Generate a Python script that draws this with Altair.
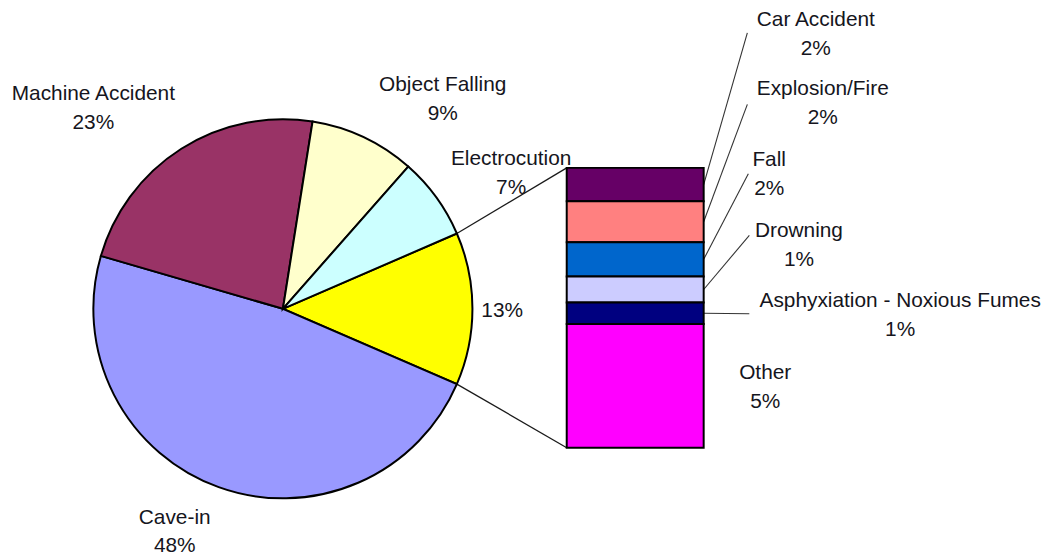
import math
import altair as alt
import pandas as pd

# ---------------- data ----------------
pie_names = ["Other causes", "Cave-in", "Machine Accident", "Object Falling", "Electrocution"]
pie_values = [13, 48, 23, 9, 7]
pie_pct = ["13%", "48%", "23%", "9%", "7%"]
pie_colors = ["#FFFF00", "#9999FF", "#993366", "#FFFFCC", "#CCFFFF"]

bar_names = ["Car Accident", "Explosion/Fire", "Fall", "Drowning",
             "Asphyxiation - Noxious Fumes", "Other"]
bar_values = [1.55, 1.9, 1.6, 1.2, 1.0, 5.75]
bar_pct = ["2%", "2%", "2%", "1%", "1%", "5%"]
bar_colors = ["#660066", "#FF8080", "#0066CC", "#CCCCFF", "#000080", "#FF00FF"]

# ---------------- layout (pixels inside the chart) ----------------
W, H = 1053, 547
CX, CY, R = 277, 301, 191
BAR_X0, BAR_X1 = 563, 701
BAR_TOP, BAR_BOTTOM = 159, 441
FONT = "Liberation Sans"
FS = 21
LH = 29

pie_total = sum(pie_values)
a0 = math.pi / 2 - math.pi * pie_values[0] / pie_total   # aggregated slice centred at 3 o'clock
a1 = a0 + 2 * math.pi * pie_values[0] / pie_total

pie_df = pd.DataFrame({
    "name": pie_names,
    "value": pie_values,
    "order": list(range(len(pie_names))),
    "color": pie_colors,
})

# bar stacked from bottom (Other) to top (Car Accident)
bar_total = sum(bar_values)
lo, hi = [], []
acc = 0.0
for v in reversed(bar_values):
    lo.append(acc)
    acc += v
    hi.append(acc)
lo = list(reversed(lo))
hi = list(reversed(hi))
bar_df = pd.DataFrame({
    "name": bar_names,
    "value": bar_values,
    "lo": lo,
    "hi": hi,
    "color": bar_colors,
})

def bar_px(v):
    return BAR_BOTTOM - v / bar_total * (BAR_BOTTOM - BAR_TOP)

# connectors from pie slice edges to bar corners
conn_df = pd.DataFrame({
    "x": [CX + R * math.sin(a0), CX + R * math.sin(a1)],
    "y": [CY - R * math.cos(a0), CY - R * math.cos(a1)],
    "x2": [BAR_X0, BAR_X0],
    "y2": [BAR_TOP, BAR_BOTTOM],
})

# leader lines from bar segments to labels
leader_end = [(745, 23), (745, 95), (746, 165), (747, 227), (747, 306)]
mids = [bar_px((l + h) / 2) for l, h in zip(lo, hi)]
lead_df = pd.DataFrame({
    "x": [BAR_X1] * 5,
    "y": mids[:5],
    "x2": [e[0] for e in leader_end],
    "y2": [e[1] for e in leader_end],
})

# labels
pie_label_pos = [(498, 309.5), (168, 517.5), (86, 90.5), (438, 81.5), (507, 156.5)]
bar_label_pos = [(814, 16.5), (821, 85.5), (767, 157.5), (797, 228.5), (899, 299.5), (763, 371.5)]
texts, xs, ys = [], [], []
for i, (n, p) in enumerate(zip(pie_names, pie_pct)):
    texts.append(p if i == 0 else n + "\n" + p)
    xs.append(pie_label_pos[i][0])
    ys.append(pie_label_pos[i][1])
for i, (n, p) in enumerate(zip(bar_names, bar_pct)):
    texts.append(n + "\n" + p)
    xs.append(bar_label_pos[i][0])
    ys.append(bar_label_pos[i][1])
text_df = pd.DataFrame({"label": texts, "x": xs, "y": ys})

# ---------------- layers ----------------
conn = alt.Chart(conn_df).mark_rule(color="#1a1a1a", strokeWidth=1.3).encode(
    x=alt.X("x:Q", scale=None), y=alt.Y("y:Q", scale=None),
    x2="x2:Q", y2="y2:Q",
)
lead = alt.Chart(lead_df).mark_rule(color="#333333", strokeWidth=1.1).encode(
    x=alt.X("x:Q", scale=None), y=alt.Y("y:Q", scale=None),
    x2="x2:Q", y2="y2:Q",
)
pie = alt.Chart(pie_df).mark_arc(radius=R, stroke="black", strokeWidth=2).encode(
    theta=alt.Theta("value:Q", stack=True,
                    scale=alt.Scale(domain=[0, pie_total], range=[a0, a0 + 2 * math.pi])),
    order=alt.Order("order:Q"),
    fill=alt.Fill("color:N", scale=None),
    detail="name:N",
    x=alt.value(CX),
    y=alt.value(CY),
)
bar = alt.Chart(bar_df).mark_bar(stroke="black", strokeWidth=2).encode(
    y=alt.Y("lo:Q", scale=alt.Scale(domain=[0, bar_total], range=[BAR_BOTTOM, BAR_TOP]), axis=None),
    y2="hi:Q",
    x=alt.value(BAR_X0),
    x2=alt.value(BAR_X1),
    fill=alt.Fill("color:N", scale=None),
)
labels = alt.Chart(text_df).mark_text(
    align="center", baseline="alphabetic", lineBreak="\n", lineHeight=LH,
    fontSize=FS, font=FONT, color="#151520",
).encode(
    x=alt.X("x:Q", scale=None), y=alt.Y("y:Q", scale=None),
    text="label:N",
)

chart = alt.layer(conn, lead, pie, bar, labels).resolve_scale(
    x="independent", y="independent"
).properties(
    width=W, height=H, padding=0,
    autosize=alt.AutoSizeParams(type="none"),
).configure_view(stroke=None)

chart.save("out.html", embed_options={"renderer": "svg", "actions": False})
